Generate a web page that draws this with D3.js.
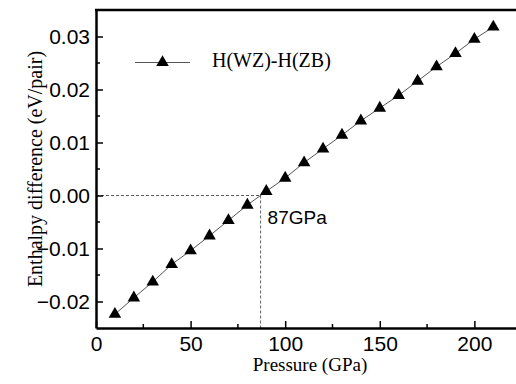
<!DOCTYPE html>
<html>
<head>
<meta charset="utf-8">
<script src="https://cdn.jsdelivr.net/npm/d3@7"></script>
<style>
  body { margin: 0; background: #fff; }
  svg { display: block; }
</style>
</head>
<body>
<svg id="chart" width="516" height="384"></svg>
<script>
// pressure (GPa) and enthalpy difference H(WZ)-H(ZB) (eV/pair)
const pressure = [10, 20, 30, 40, 50, 60, 70, 80, 90, 100, 110, 120, 130, 140, 150, 160, 170, 180, 190, 200, 210];
const enthalpyDiff = [-0.0224, -0.0193, -0.0163, -0.0130, -0.0104, -0.0076, -0.0047, -0.0018, 0.0008, 0.0033, 0.0062,
  0.0088, 0.0114, 0.0141, 0.0165, 0.0189, 0.0216, 0.0243, 0.0268, 0.0295, 0.0318];
const xTicks = [0, 50, 100, 150, 200];
const yTicks = [-0.02, -0.01, 0.00, 0.01, 0.02, 0.03];
const transitionP = 87;
const seriesName = "H(WZ)-H(ZB)";

const svg = d3.select("#chart");
const mLeft = 96, mRight = 516, mTop = 10, mBottom = 328;

const x = d3.scaleLinear().domain([0, 222]).range([mLeft, mRight]);
const y = d3.scaleLinear().domain([-0.025, 0.035]).range([mBottom, mTop]);

const points = pressure.map((p, i) => ({ p: p, h: enthalpyDiff[i] }));

// dashed guide lines at the transition pressure
svg.append("line")
  .attr("x1", mLeft).attr("x2", x(transitionP))
  .attr("y1", y(0)).attr("y2", y(0))
  .attr("stroke", "#333").attr("stroke-width", 0.8)
  .attr("stroke-dasharray", "3,2");
svg.append("line")
  .attr("x1", x(transitionP)).attr("x2", x(transitionP))
  .attr("y1", y(0)).attr("y2", mBottom)
  .attr("stroke", "#333").attr("stroke-width", 0.8)
  .attr("stroke-dasharray", "3,2");

// data line + markers
svg.append("path")
  .datum(points)
  .attr("fill", "none")
  .attr("stroke", "#555")
  .attr("stroke-width", 1)
  .attr("d", d3.line().x((d) => x(d.p)).y((d) => y(d.h)));

const tri = d3.symbol().type(d3.symbolTriangle).size(68);
svg.append("g")
  .selectAll("path")
  .data(points)
  .join("path")
  .attr("d", tri)
  .attr("transform", (d) => `translate(${x(d.p)},${y(d.h)})`)
  .attr("fill", "#000");

// axes (ticks point inward)
const xAxis = svg.append("g").attr("transform", `translate(0,${mBottom})`)
  .call(d3.axisBottom(x).tickValues(xTicks).tickSizeInner(-7).tickSizeOuter(0).tickFormat(d3.format("d")));
xAxis.append("g").selectAll("line")
  .data([25, 75, 125, 175])
  .join("line")
  .attr("x1", (d) => x(d)).attr("x2", (d) => x(d))
  .attr("y1", 0).attr("y2", -4)
  .attr("stroke", "#000").attr("stroke-width", 1.5);

const yAxis = svg.append("g").attr("transform", `translate(${mLeft},0)`)
  .call(d3.axisLeft(y).tickValues(yTicks).tickSizeInner(-7).tickSizeOuter(0).tickFormat(d3.format(".2f")));
yAxis.append("g").selectAll("line")
  .data([-0.015, -0.005, 0.005, 0.015, 0.025])
  .join("line")
  .attr("x1", 0).attr("x2", 4)
  .attr("y1", (d) => y(d)).attr("y2", (d) => y(d))
  .attr("stroke", "#000").attr("stroke-width", 1.5);

svg.selectAll(".domain").attr("stroke", "#000").attr("stroke-width", 2.5);
svg.selectAll(".tick line").attr("stroke", "#000").attr("stroke-width", 1.5);
svg.selectAll(".tick text")
  .attr("font-family", "Liberation Sans, Arial, sans-serif")
  .attr("font-size", "21px")
  .attr("fill", "#000");
xAxis.selectAll(".tick text").attr("dy", 0).attr("y", 23);
yAxis.selectAll(".tick text").attr("x", -6).attr("dy", "0.35em");

// top frame line
svg.append("line")
  .attr("x1", mLeft - 1).attr("x2", mRight)
  .attr("y1", mTop).attr("y2", mTop)
  .attr("stroke", "#000").attr("stroke-width", 2.5);

// axis titles
svg.append("text")
  .attr("x", 310).attr("y", 371)
  .attr("text-anchor", "middle")
  .attr("font-family", "Liberation Serif, Times New Roman, serif")
  .attr("font-size", "19px")
  .text("Pressure (GPa)");

svg.append("text")
  .attr("transform", `translate(42,${(mTop + mBottom) / 2}) rotate(-90)`)
  .attr("text-anchor", "middle")
  .attr("font-family", "Liberation Serif, Times New Roman, serif")
  .attr("font-size", "20px")
  .text("Enthalpy difference (eV/pair)");

// annotation
svg.append("text")
  .attr("x", x(transitionP) + 7).attr("y", 224)
  .attr("font-family", "Liberation Sans, Arial, sans-serif")
  .attr("font-size", "19px")
  .text(transitionP + "GPa");

// legend
const legend = svg.append("g").attr("transform", "translate(135,62.5)");
legend.append("line")
  .attr("x1", 0).attr("x2", 55).attr("y1", 0).attr("y2", 0)
  .attr("stroke", "#555").attr("stroke-width", 1);
legend.append("path")
  .attr("d", tri)
  .attr("transform", "translate(27.5,0)");
legend.append("text")
  .attr("x", 77).attr("y", 4.5)
  .attr("font-family", "Liberation Serif, Times New Roman, serif")
  .attr("font-size", "20px")
  .text(seriesName);
</script>
</body>
</html>
